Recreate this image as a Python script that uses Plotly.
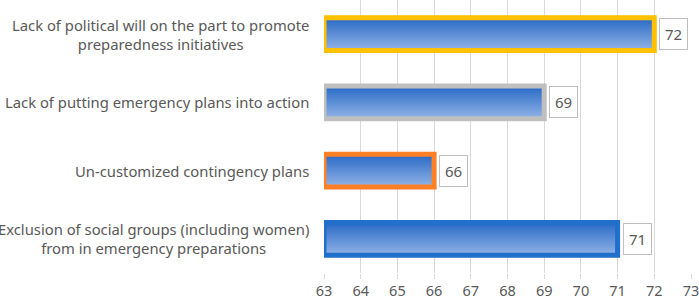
import plotly.graph_objects as go

categories = [
    "Exclusion of social groups (including women)<br>from in emergency preparations",
    "Un-customized contingency plans",
    "Lack of putting emergency plans into action",
    "Lack of political will on the part to promote<br>preparedness initiatives",
]
values = [71, 66, 69, 72]
outline_colors = ["#1F6FCB", "#FF7F27", "#BFBFBF", "#FFC000"]
x_min, x_max = 63, 73
tick_vals = list(range(63, 74))

FONT = "Noto Sans, sans-serif"
TXT = "#595959"

lengths = [v - x_min for v in values]
bar_w = 0.48
n_slices = 18
top_rgb = (0x2A, 0x6B, 0xC6)
bot_rgb = (0x90, 0xB2, 0xE6)

fig = go.Figure()
slice_w = bar_w / n_slices
for i in range(n_slices):
    t = i / (n_slices - 1)
    r = round(top_rgb[0] + (bot_rgb[0] - top_rgb[0]) * t)
    g = round(top_rgb[1] + (bot_rgb[1] - top_rgb[1]) * t)
    b = round(top_rgb[2] + (bot_rgb[2] - top_rgb[2]) * t)
    fig.add_trace(go.Bar(
        y=categories, x=lengths, base=x_min, orientation="h",
        width=bar_w - i * slice_w, offset=-bar_w / 2,
        marker=dict(color=f"rgb({r},{g},{b})", line=dict(width=0)),
        hoverinfo="skip", showlegend=False,
    ))

fig.add_trace(go.Bar(
    y=categories, x=lengths, base=x_min, orientation="h",
    width=bar_w, offset=-bar_w / 2,
    marker=dict(color="rgba(0,0,0,0)", line=dict(width=5, color=outline_colors)),
    cliponaxis=False, showlegend=False,
))

annotations = []
for c, v in zip(categories, values):
    annotations.append(dict(
        x=v, y=c, xref="x", yref="y", text=str(v), showarrow=False,
        xanchor="left", xshift=5, bgcolor="white", bordercolor="#BFBFBF",
        borderwidth=1, borderpad=5, font=dict(size=15, color=TXT, family=FONT),
    ))
    annotations.append(dict(
        x=0, y=c, xref="paper", yref="y", text=c, showarrow=False,
        xanchor="right", xshift=-13, align="center",
        font=dict(size=14.8, color=TXT, family=FONT),
    ))

fig.update_layout(
    width=699, height=300,
    margin=dict(l=324, r=7, t=0, b=25),
    barmode="overlay",
    plot_bgcolor="white", paper_bgcolor="white",
    font=dict(family=FONT, color=TXT),
    annotations=annotations,
    xaxis=dict(range=[x_min, x_max], tickvals=tick_vals, showgrid=True,
               gridcolor="#D9D9D9", gridwidth=1, zeroline=False,
               tickfont=dict(size=14.5, color=TXT), showline=False,
               ticks="outside", ticklen=5, tickcolor="#D9D9D9",
               ticklabeloverflow="allow", fixedrange=True),
    yaxis=dict(categoryorder="array", categoryarray=categories,
               showticklabels=False, showgrid=False, zeroline=False,
               range=[-0.5, 3.5], fixedrange=True),
)

fig.write_html("out.html", config={"displayModeBar": False},
               post_script="document.body.style.margin='0';")
